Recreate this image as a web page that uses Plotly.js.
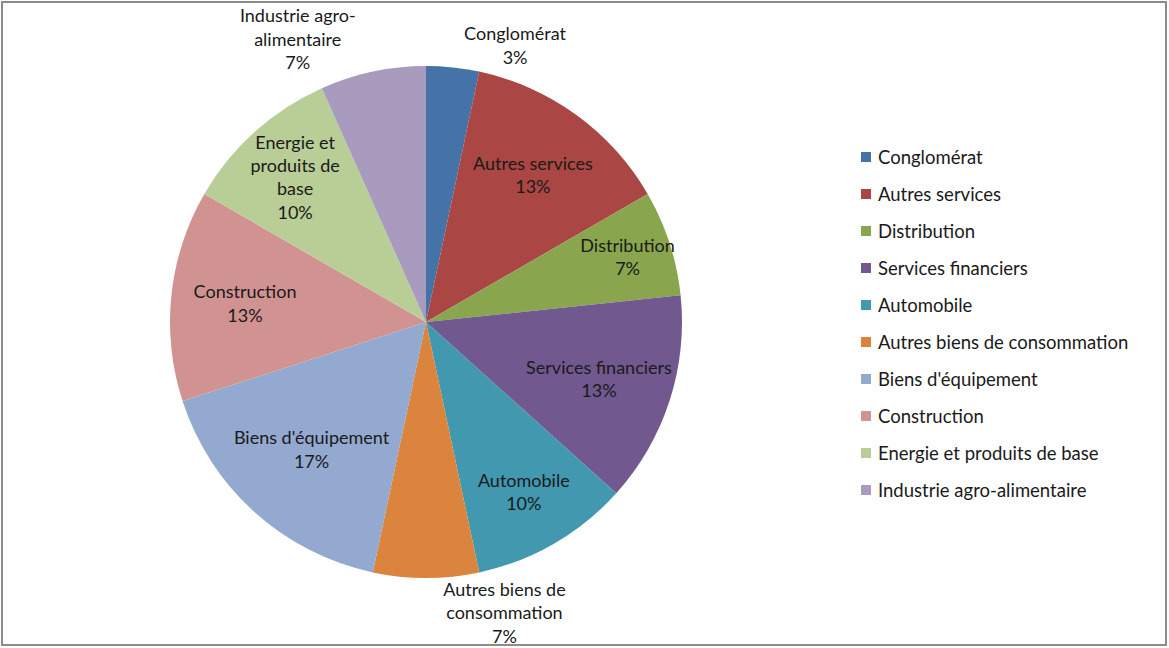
<!DOCTYPE html>
<html>
<head>
<meta charset="utf-8">
<script src="https://cdn.plot.ly/plotly-3.0.1.min.js"></script>
<style>html,body{margin:0;padding:0;background:#fff;}#chart{width:1169px;height:648px;}</style>
</head>
<body>
<div id="chart"></div>
<script>
// Data
var categories = ["Conglomérat", "Autres services", "Distribution", "Services financiers", "Automobile",
  "Autres biens de consommation", "Biens d'équipement", "Construction", "Energie et produits de base",
  "Industrie agro-alimentaire"];
var sliceLabels = ["Conglomérat", "Autres services", "Distribution", "Services financiers", "Automobile",
  "Autres biens de<br>consommation", "Biens d'équipement", "Construction", "Energie et<br>produits de<br>base",
  "Industrie agro-<br>alimentaire"];
var counts = [1, 4, 2, 4, 3, 2, 5, 4, 3, 2];
var colors = ["#4572A7", "#AA4643", "#89A54E", "#71588F", "#4198AF", "#DB843D", "#93A9CF", "#D19392", "#B9CD96", "#A99BBD"];
var labelPlacement = ["outside", "inside", "inside", "inside", "inside", "outside", "inside", "inside", "inside", "outside"];
var labelSizes = [17, 18, 18, 18, 18, 16, 18, 18, 18, 16];

var W = 1169, H = 648;
function px(x) { return x / W; }
function py(y) { return 1 - y / H; }

var FONT = "Lato, 'Open Sans', sans-serif";
var cx = 426, cy = 322, R = 256;

var trace = {
  type: "pie",
  labels: categories,
  values: counts,
  text: sliceLabels,
  texttemplate: "%{text}<br>%{percent:.0%}",
  textposition: labelPlacement,
  insidetextorientation: "horizontal",
  sort: false,
  direction: "clockwise",
  rotation: 0,
  marker: { colors: colors, line: { width: 0 } },
  textfont: { family: FONT, size: labelSizes, color: "#1a1a1a" },
  showlegend: false,
  hoverinfo: "label+percent",
  domain: { x: [px(cx - R), px(cx + R)], y: [py(cy + R), py(cy - R)] }
};

// Legend built from the category/colour arrays
var shapes = [{
  type: "rect", xref: "paper", yref: "paper",
  x0: px(2), x1: px(1166), y0: py(645), y1: py(2),
  line: { color: "#8c8c8c", width: 2 }, fillcolor: "rgba(0,0,0,0)"
}];
var annotations = [];
var legX = 861, legY0 = 157, legStep = 37;
categories.forEach(function (c, i) {
  var y = legY0 + i * legStep;
  shapes.push({
    type: "rect", xref: "paper", yref: "paper",
    x0: px(legX), x1: px(legX + 10), y0: py(y + 5), y1: py(y - 5),
    line: { width: 0 }, fillcolor: colors[i]
  });
  annotations.push({
    xref: "paper", yref: "paper", x: px(legX + 15), y: py(y),
    xanchor: "left", yanchor: "middle", showarrow: false,
    text: c, font: { family: FONT, size: 18.5, color: "#1a1a1a" }
  });
});

var layout = {
  width: W, height: H,
  margin: { l: 0, r: 0, t: 0, b: 0 },
  paper_bgcolor: "#ffffff",
  showlegend: false,
  uniformtext: { mode: "show", minsize: 18 },
  shapes: shapes,
  annotations: annotations,
  font: { family: FONT }
};

Plotly.newPlot("chart", [trace], layout, { displayModeBar: false, staticPlot: true });
</script>
</body>
</html>
